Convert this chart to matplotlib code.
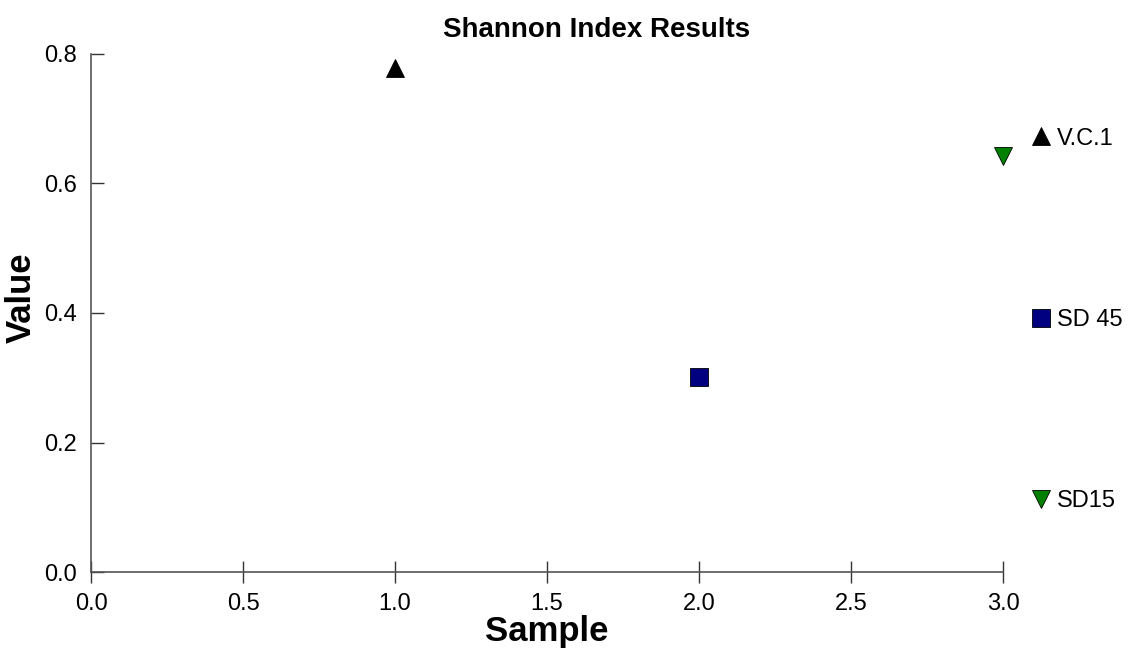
import matplotlib
matplotlib.use("Agg")
import matplotlib.pyplot as plt
from matplotlib.lines import Line2D

plt.rcParams['font.family'] = ['Liberation Sans', 'DejaVu Sans']

# data
names   = ['V.C.1', 'SD 45', 'SD15']
samples = [1.0, 2.0, 3.0]
values  = [0.778, 0.301, 0.642]
markers = ['^', 's', 'v']
colors  = ['black', '#000080', '#008000']

xticks = [0.0, 0.5, 1.0, 1.5, 2.0, 2.5, 3.0]
yticks = [0.0, 0.2, 0.4, 0.6, 0.8]

fig = plt.figure(figsize=(11.28, 6.55), dpi=100)
ax = fig.add_axes([0.0807, 0.1267, 0.8085, 0.7909])

for x, y, m, c in zip(samples, values, markers, colors):
    ax.plot([x], [y], marker=m, markersize=13, color=c, markeredgecolor='black',
            markeredgewidth=0.6, linestyle='none', clip_on=False)

ax.set_xlim(0, 3)
ax.set_ylim(0, 0.8)
ax.set_xticks(xticks)
ax.set_yticks(yticks)
ax.set_xticklabels([f'{t:.1f}' for t in xticks])
ax.set_yticklabels([f'{t:.1f}' for t in yticks])

for side in ['top', 'right']:
    ax.spines[side].set_visible(False)
for side in ['left', 'bottom']:
    ax.spines[side].set_color('#555555')
    ax.spines[side].set_linewidth(1.2)

ax.tick_params(axis='x', direction='inout', length=16, width=1.0, color='#333333',
               labelsize=17, pad=7)
ax.tick_params(axis='y', direction='in', length=9.5, width=1.0, color='#333333',
               labelsize=17, pad=10)

ax.set_title('Shannon Index Results', fontsize=20, fontweight='bold', x=0.554, pad=12)
ax.set_xlabel('Sample', fontsize=25, fontweight='bold', labelpad=0)
ax.set_ylabel('Value', fontsize=25, fontweight='bold')
ax.yaxis.set_label_coords(-0.058, 0.53)

handles = [Line2D([], [], marker=m, markersize=13, color=c, markeredgecolor='black',
                  markeredgewidth=0.6, linestyle='none')
           for m, c in zip(markers, colors)]
ax.legend(handles, names, loc='upper left', bbox_to_anchor=(1.018, 0.876), frameon=False,
          fontsize=17, handlelength=1.0, handletextpad=0.2, labelspacing=6.75,
          borderaxespad=0)

fig.savefig('out.png', dpi=100)
